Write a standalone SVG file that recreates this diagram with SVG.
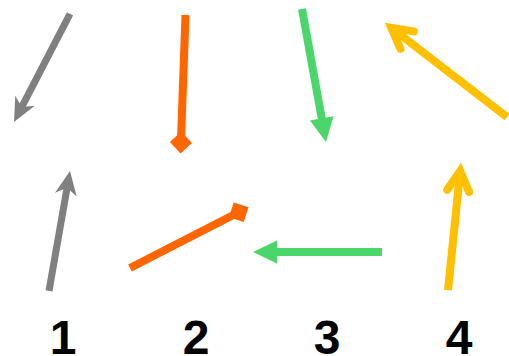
<svg xmlns="http://www.w3.org/2000/svg" width="509" height="356" viewBox="0 0 509 356">
<style>
.grey{stroke:#808080;stroke-width:7;fill:none}
.greyh{fill:#808080}
.orange{stroke:#FF6600;stroke-width:8;fill:none}
.orangeh{fill:#FF6600}
.green{stroke:#4BD66C;stroke-width:8;fill:none}
.greenh{fill:#4BD66C}
.yellow{stroke:#FFC000;stroke-width:8;fill:none}
.yellowh{stroke:#FFC000;stroke-width:8;fill:none;stroke-linecap:round;stroke-linejoin:miter}
.lbl{font-family:"Liberation Sans",Arial,sans-serif;font-weight:bold;font-size:48px;fill:#000;text-anchor:middle}
</style>
<rect width="509" height="356" fill="#fff"/>
<g id="connectors">
  <g id="arrow-1a" transform="translate(14,122) rotate(117.4)">
    <line class="grey" x1="-121.7" y1="0" x2="-15" y2="0"/>
    <path class="greyh" d="M0,0 L-24,-11 L-17,0 L-24,11 Z"/>
  </g>
  <g id="arrow-1b" transform="translate(70,171) rotate(-80.07)">
    <line class="grey" x1="-121.8" y1="0" x2="-15" y2="0"/>
    <path class="greyh" d="M0,0 L-24,-11 L-17,0 L-24,11 Z"/>
  </g>
  <g id="arrow-2a" transform="translate(180.5,153.5) rotate(92.07)">
    <line class="orange" x1="-138.6" y1="0" x2="-11" y2="0"/>
    <path class="orangeh" d="M0,0 L-11,-11 L-22,0 L-11,11 Z"/>
  </g>
  <g id="arrow-2b" transform="translate(248.5,207.2) rotate(-27.16)">
    <line class="orange" x1="-133.2" y1="0" x2="-11" y2="0"/>
    <path class="orangeh" d="M0,0 L-11,-11 L-22,0 L-11,11 Z"/>
  </g>
  <g id="arrow-3a" transform="translate(326,142) rotate(79.77)">
    <line class="green" x1="-135.1" y1="0" x2="-22" y2="0"/>
    <path class="greenh" d="M0,0 L-24,-12 L-24,12 Z"/>
  </g>
  <g id="arrow-3b" transform="translate(253,252) rotate(180)">
    <line class="green" x1="-129" y1="0" x2="-22" y2="0"/>
    <path class="greenh" d="M0,0 L-24,-11.5 L-24,11.5 Z"/>
  </g>
  <g id="arrow-4a" transform="translate(385,23) rotate(217.6)">
    <line class="yellow" x1="-154" y1="0" x2="-8" y2="0"/>
    <path class="yellowh" d="M-28,-11 L-8,0 L-28,11"/>
  </g>
  <g id="arrow-4b" transform="translate(461,163) rotate(-84.15)">
    <line class="yellow" x1="-127.7" y1="0" x2="-8" y2="0"/>
    <path class="yellowh" d="M-28,-11 L-8,0 L-28,11"/>
  </g>
</g>
<g id="labels">
  <text class="lbl" x="63" y="354">1</text>
  <text class="lbl" x="196" y="354">2</text>
  <text class="lbl" x="327" y="354">3</text>
  <text class="lbl" x="459" y="354">4</text>
</g>
</svg>
